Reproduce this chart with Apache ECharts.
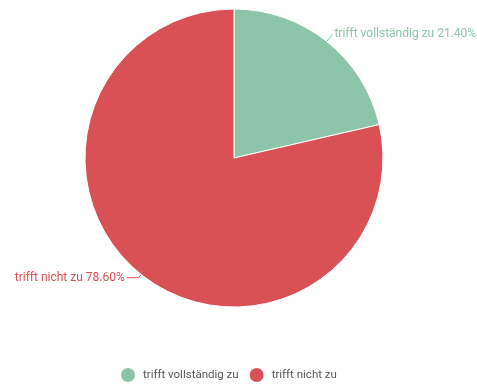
<!DOCTYPE html>
<html>
<head>
<meta charset="utf-8">
<script src="https://cdn.jsdelivr.net/npm/echarts@6/dist/echarts.min.js"></script>
<style>
html,body{margin:0;padding:0;background:#fff;}
#chart{width:477px;height:385px;}
</style>
</head>
<body>
<div id="chart"></div>
<script>
const categories = ['trifft vollständig zu', 'trifft nicht zu'];
const values = [21.40, 78.60];
const colors = ['#8cc5a8', '#d95155'];

const chart = echarts.init(document.getElementById('chart'));
chart.setOption({
  animation: false,
  color: colors,
  textStyle: { fontFamily: 'Roboto' },
  legend: {
    top: 361,
    left: 114,
    padding: 5,
    icon: 'circle',
    itemWidth: 20,
    itemHeight: 16,
    itemGap: 9,
    textStyle: { fontSize: 11.5, color: '#555', fontFamily: 'Roboto' },
    data: categories
  },
  series: [{
    type: 'pie',
    center: [234, 158],
    radius: 149,
    startAngle: 90,
    clockwise: true,
    itemStyle: { borderColor: '#fff', borderWidth: 1 },
    label: {
      show: true,
      fontSize: 12,
      fontFamily: 'Roboto',
      overflow: 'none',
      distanceToLabelLine: 2,
      formatter: p => p.name + ' ' + p.value.toFixed(2) + '%'
    },
    labelLine: { show: true, length: 9, length2: 0, lineStyle: { width: 1 } },
    data: categories.map((n, i) => ({
      name: n,
      value: values[i],
      label: { color: colors[i] },
      labelLine: i === 1 ? { length: 4, length2: 12 } : undefined
    }))
  }]
});
</script>
</body>
</html>
